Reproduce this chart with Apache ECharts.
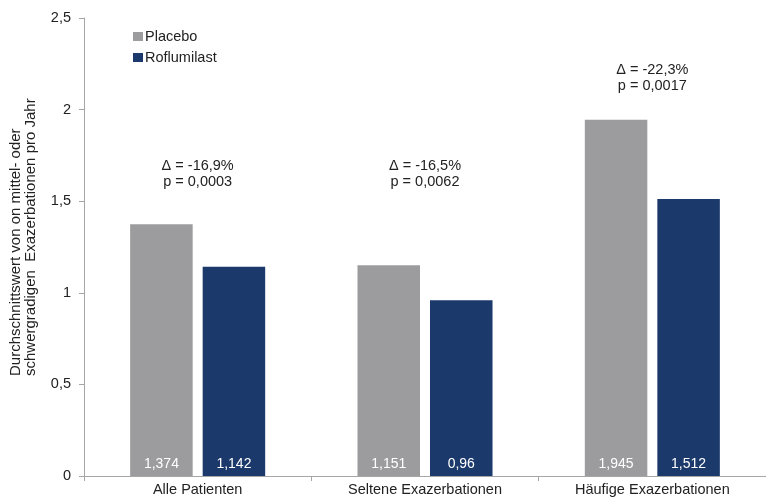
<!DOCTYPE html>
<html>
<head>
<meta charset="utf-8">
<script src="https://cdn.jsdelivr.net/npm/echarts@6/dist/echarts.min.js"></script>
<style>
  html, body { margin: 0; padding: 0; background: #fff; }
  #chart { width: 766px; height: 501px; }
</style>
</head>
<body>
<div id="chart"></div>
<script>
// Mean rate of moderate or severe exacerbations per year
const categories = ['Alle Patienten', 'Seltene Exazerbationen', 'Häufige Exazerbationen'];
const placebo = [1.374, 1.151, 1.945];
const roflumilast = [1.142, 0.96, 1.512];
const deltaText = ['Δ = -16,9%', 'Δ = -16,5%', 'Δ = -22,3%'];
const pText = ['p = 0,0003', 'p = 0,0062', 'p = 0,0017'];
// vertical anchor (axis units) for each group's note
const noteLevel = [1.65, 1.65, 2.17];
const yTicks = [0, 0.5, 1, 1.5, 2, 2.5];
const yTitle = 'Durchschnittswert von on mittel- oder\nschwergradigen  Exazerbationen pro Jahr';

const fmt = v => String(v).replace('.', ',');
const textColor = '#222';
const axisColor = '#a6a6a6';
const font = 'Liberation Sans, Arial, sans-serif';

const chart = echarts.init(document.getElementById('chart'));
chart.setOption({
  animation: false,
  textStyle: { fontFamily: font },
  legend: {
    orient: 'vertical',
    left: 128, top: 24,
    itemWidth: 10, itemHeight: 9, itemGap: 6,
    icon: 'rect',
    textStyle: { fontSize: 14.5, color: textColor, fontFamily: font, padding: [0, 0, 0, -3] },
    data: ['Placebo', 'Roflumilast']
  },
  grid: { left: 84, right: 0, top: 18, bottom: 25, containLabel: false, outerBoundsMode: 'none' },
  xAxis: {
    type: 'category',
    data: categories,
    axisLine: { lineStyle: { color: axisColor } },
    axisTick: { show: true, length: 5, lineStyle: { color: axisColor } },
    axisLabel: { color: textColor, fontSize: 14.5, fontFamily: font, margin: 6 }
  },
  yAxis: {
    type: 'value',
    min: 0, max: 2.5, interval: 0.5,
    axisLine: { show: true, lineStyle: { color: axisColor } },
    axisTick: { show: true, length: 5, lineStyle: { color: axisColor } },
    splitLine: { show: false },
    axisLabel: {
      color: textColor, fontSize: 14.5, fontFamily: font, margin: 13,
      formatter: v => yTicks.includes(v) ? fmt(v) : ''
    }
  },
  graphic: [{
    type: 'text',
    x: 23, y: 376,
    rotation: Math.PI / 2,
    style: {
      text: yTitle,
      fill: textColor,
      font: '15px ' + font,
      lineHeight: 15,
      align: 'left',
      verticalAlign: 'middle'
    }
  }],
  series: [
    {
      name: 'Placebo',
      type: 'bar',
      data: placebo,
      barWidth: '27.5%',
      barGap: '16%',
      itemStyle: { color: '#9c9c9f' },
      label: {
        show: true, position: 'insideBottom', distance: 5,
        color: '#fff', fontSize: 14, fontFamily: font,
        formatter: p => fmt(p.value)
      }
    },
    {
      name: 'Roflumilast',
      type: 'bar',
      data: roflumilast,
      barWidth: '27.5%',
      itemStyle: { color: '#1c396b' },
      label: {
        show: true, position: 'insideBottom', distance: 5,
        color: '#fff', fontSize: 14, fontFamily: font,
        formatter: p => fmt(p.value)
      }
    },
    {
      name: 'notes',
      type: 'custom',
      silent: true,
      data: categories.map((c, i) => [i, noteLevel[i]]),
      renderItem: (params, api) => {
        const pt = api.coord([api.value(0), api.value(1)]);
        const i = params.dataIndex;
        return {
          type: 'text',
          x: pt[0], y: pt[1],
          style: {
            text: deltaText[i] + '\n' + pText[i],
            fill: textColor,
            font: '14.5px ' + font,
            lineHeight: 16,
            align: 'center',
            verticalAlign: 'middle'
          }
        };
      }
    }
  ]
});
</script>
</body>
</html>
